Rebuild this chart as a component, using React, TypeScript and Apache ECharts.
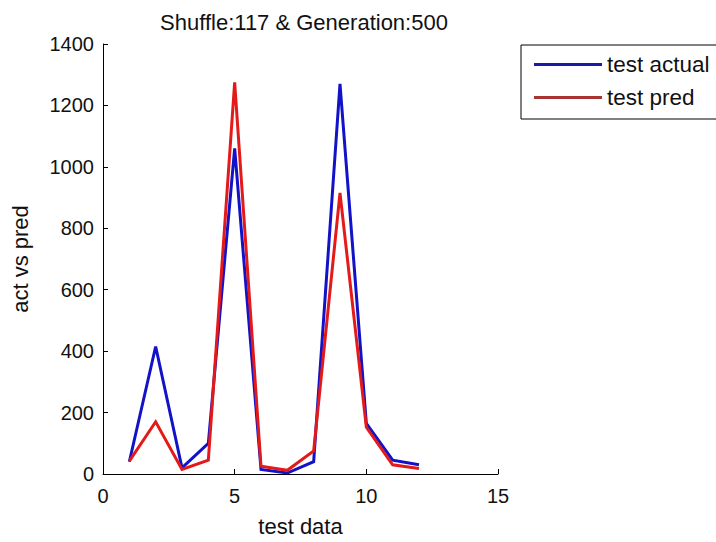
import React, { useEffect, useRef } from "react";
import * as echarts from "echarts";

const xValues = [1, 2, 3, 4, 5, 6, 7, 8, 9, 10, 11, 12];
const actualValues = [40, 415, 20, 100, 1060, 15, 3, 40, 1270, 165, 45, 30];
const predValues = [42, 170, 15, 45, 1275, 25, 12, 75, 915, 152, 30, 18];
const seriesNames = ["test actual", "test pred"];
const titleText = "Shuffle:117 & Generation:500";
const xAxisName = "test data";
const yAxisName = "act vs pred";

const FONT = "'Liberation Sans', Arial, sans-serif";

export default function App() {
  const ref = useRef<HTMLDivElement>(null);
  useEffect(() => {
    if (!ref.current) return;
    const chart = echarts.init(ref.current, undefined, { renderer: "svg" });
    const toPairs = (vals: number[]) => xValues.map((x, i) => [x, vals[i]]);
    chart.setOption({
      animation: false,
      backgroundColor: "#ffffff",
      title: {
        text: titleText,
        left: 299,
        textAlign: "center",
        top: 6,
        textStyle: { fontFamily: FONT, fontSize: 22, fontWeight: "normal", color: "#111" },
      },
      legend: {
        orient: "vertical",
        left: 521,
        top: 45,
        padding: [8, 24, 10, 13],
        itemGap: 10,
        itemWidth: 68,
        itemHeight: 3,
        icon: "rect",
        borderColor: "#000",
        borderWidth: 1,
        backgroundColor: "#fff",
        textStyle: { fontFamily: FONT, fontSize: 22.5, color: "#111" },
        data: [
          { name: seriesNames[0], itemStyle: { color: "#1a1aa8" } },
          { name: seriesNames[1], itemStyle: { color: "#a83434" } },
        ],
      },
      grid: { left: 103, right: 218, top: 44, bottom: 59, containLabel: false },
      xAxis: {
        type: "value",
        min: 0,
        max: 15,
        interval: 5,
        name: xAxisName,
        nameLocation: "middle",
        nameGap: 41,
        nameTextStyle: { fontFamily: FONT, fontSize: 22, color: "#111" },
        axisLine: { show: true, onZero: false, lineStyle: { color: "#000", width: 1 } },
        axisTick: { show: true, inside: true, length: 5, lineStyle: { color: "#000" } },
        axisLabel: { fontFamily: FONT, fontSize: 20, color: "#111", margin: 12 },
        splitLine: { show: false },
      },
      yAxis: {
        type: "value",
        min: 0,
        max: 1400,
        interval: 200,
        name: yAxisName,
        nameLocation: "middle",
        nameGap: 72,
        nameTextStyle: { fontFamily: FONT, fontSize: 22, color: "#111" },
        axisLine: { show: true, lineStyle: { color: "#000", width: 1 } },
        axisTick: { show: true, inside: true, length: 5, lineStyle: { color: "#000" } },
        axisLabel: {
          fontFamily: FONT,
          fontSize: 20,
          color: "#111",
          margin: 9,
          formatter: (v: number) => String(v),
        },
        splitLine: { show: false },
      },
      series: [
        {
          name: seriesNames[0],
          type: "line",
          data: toPairs(actualValues),
          showSymbol: false,
          symbol: "none",
          lineStyle: { color: "#1212c8", width: 3, join: "miter" },
          itemStyle: { color: "#1212c8" },
        },
        {
          name: seriesNames[1],
          type: "line",
          data: toPairs(predValues),
          showSymbol: false,
          symbol: "none",
          lineStyle: { color: "#e41a1a", width: 3, join: "miter" },
          itemStyle: { color: "#e41a1a" },
        },
      ],
    });
    return () => chart.dispose();
  }, []);
  return (
    <div
      ref={ref}
      style={{ position: "fixed", left: 0, top: 0, width: 716, height: 542, background: "#fff" }}
    />
  );
}
